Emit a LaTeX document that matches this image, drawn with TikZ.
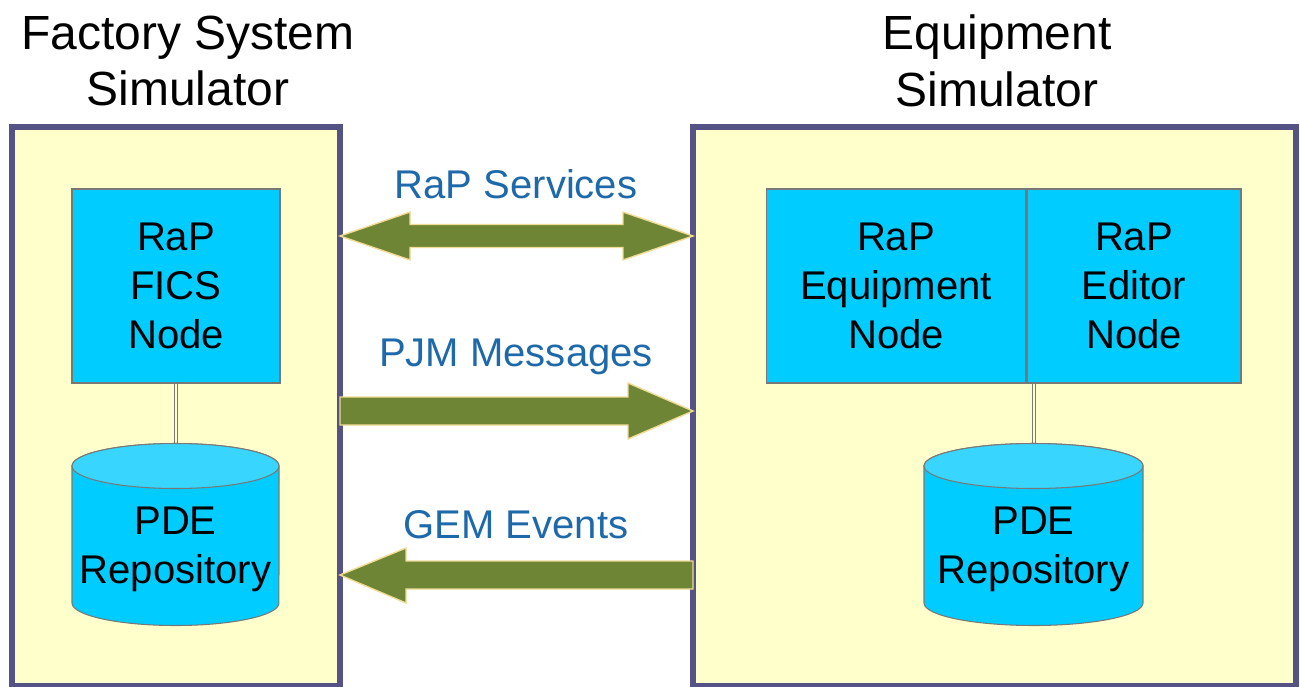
\documentclass[tikz,border=0pt]{standalone}
\usepackage{fontspec}
\setmainfont{Liberation Sans}
\usetikzlibrary{positioning}

\definecolor{framefill}{RGB}{255,255,204}
\definecolor{frameline}{RGB}{85,82,134}
\definecolor{boxfill}{RGB}{0,204,255}
\definecolor{cyltopfill}{RGB}{56,214,255}
\definecolor{boxline}{RGB}{120,120,120}
\definecolor{arrowfill}{RGB}{110,133,53}
\definecolor{arrowedge}{RGB}{240,220,150}
\definecolor{labelblue}{RGB}{30,105,170}

\newcommand{\rapfont}{\fontsize{22.8}{27.8}\selectfont}
\newcommand{\simtitlefont}{\fontsize{27.3}{32.4}\selectfont}

\tikzset{
	frame/.style = {draw=frameline, line width=3.4pt, fill=framefill},
	rapbox/.style = {draw=boxline, fill=boxfill, line width=0.6pt, align=center, font=\rapfont, inner sep=0pt, minimum height=3.88cm},
	cylbody/.style = {draw=boxline, fill=boxfill, line width=0.6pt},
	cyltop/.style = {draw=boxline, fill=cyltopfill, line width=0.6pt},
	dbtext/.style = {align=center, font=\rapfont, inner sep=0pt},
	simtitle/.style = {align=center, font=\simtitlefont, inner sep=0pt},
	flowlabel/.style = {anchor=base, font=\rapfont, text=labelblue, inner sep=0pt},
	bigarrow/.style = {fill=arrowfill, draw=arrowedge, line width=0.8pt, line join=miter},
	link/.style = {draw=boxline, line width=0.8pt, double=framefill, double distance=1.2pt}
}

\begin{document}
\begin{tikzpicture}[x=0.02cm, y=-0.02cm]
	\useasboundingbox (0,0) rectangle (1300,686);

	% the two simulators
	\draw[frame] (12,127) rectangle (340,686);
	\draw[frame] (693,127) rectangle (1296,686);
	\node[simtitle] (fsstitle) at (188,61) {Factory System\\Simulator};
	\node[simtitle] (eqstitle) at (997,61) {Equipment\\Simulator};

	% nodes
	\node[rapbox, minimum width=4.16cm] (fics) at (176,286) {RaP\\FICS\\Node};
	\node[rapbox, minimum width=5.2cm] (eqp) at (896,286) {RaP\\Equipment\\Node};
	\node[rapbox, minimum width=4.28cm, right=0pt of eqp] (edt) {RaP\\Editor\\Node};

	% repositories
	\coordinate (pdeLtop) at (176,443);
	\coordinate (pdeRtop) at (1034,443);
	\draw[link] (fics.south) -- (pdeLtop);
	\draw[link] (pdeRtop |- eqp.south) -- (pdeRtop);

	\path[cylbody] (72,466) -- (72,603) arc[start angle=180, end angle=360, x radius=2.07cm, y radius=0.45cm]
		-- (279,466) arc[start angle=0, end angle=180, x radius=2.07cm, y radius=0.45cm] -- cycle;
	\path[cyltop] (175.5,466) ellipse [x radius=2.07cm, y radius=0.45cm];
	\node[dbtext] (pdeL) at (175.5,549) {PDE\\Repository};

	\path[cylbody] (924,466) -- (924,603) arc[start angle=180, end angle=360, x radius=2.19cm, y radius=0.45cm]
		-- (1143,466) arc[start angle=0, end angle=180, x radius=2.19cm, y radius=0.45cm] -- cycle;
	\path[cyltop] (1033.5,466) ellipse [x radius=2.19cm, y radius=0.45cm];
	\node[dbtext] (pdeR) at (1033.5,549) {PDE\\Repository};

	% flows between the simulators
	\draw[bigarrow] (340,236) -- (410,212) -- (410,224.5) -- (623,224.5) -- (623,212) -- (693,236)
		-- (623,260) -- (623,247.5) -- (410,247.5) -- (410,260) -- cycle;
	\draw[bigarrow] (340,397) -- (628,397) -- (628,383) -- (693,411) -- (628,439) -- (628,425) -- (340,425) -- cycle;
	\draw[bigarrow] (340,575) -- (406,548) -- (406,561) -- (693,561) -- (693,589) -- (406,589) -- (406,603) -- cycle;

	\node[flowlabel] (rapsvc) at (516,198) {RaP Services};
	\node[flowlabel] (pjmmsg) at (516,366) {PJM Messages};
	\node[flowlabel] (gemevt) at (516,538) {GEM Events};
\end{tikzpicture}
\end{document}
